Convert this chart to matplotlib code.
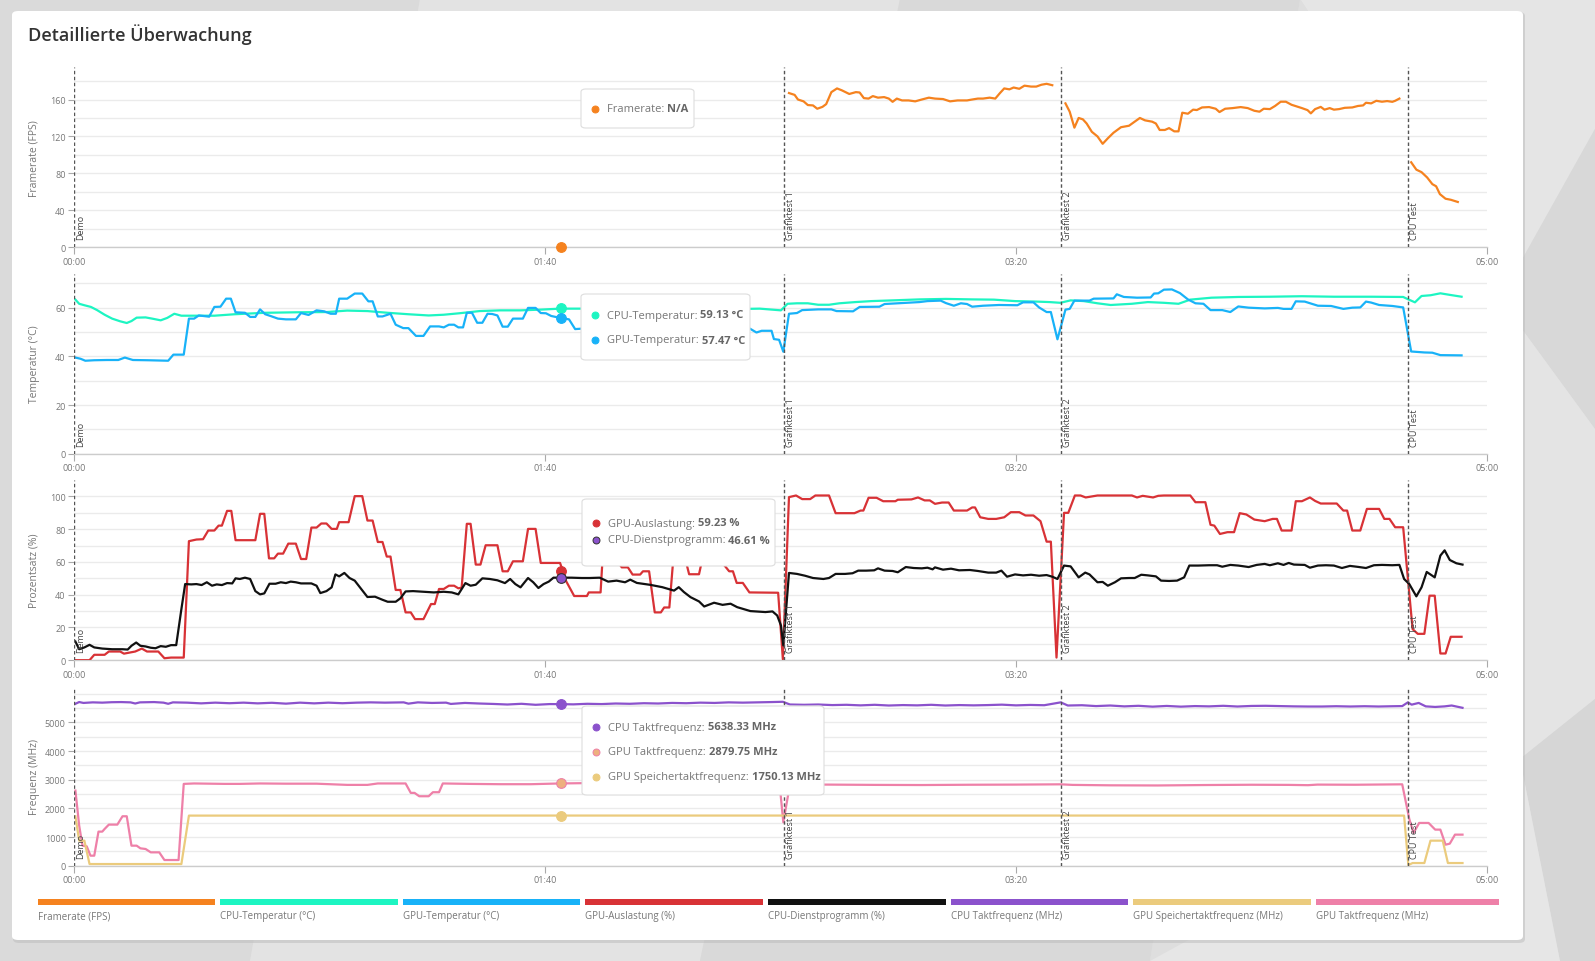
import numpy as np
import matplotlib
matplotlib.use('Agg')
import matplotlib.pyplot as plt
from matplotlib.patches import FancyBboxPatch, Polygon, Rectangle
from matplotlib.lines import Line2D

W, H = 1595, 962
plt.rcParams['font.family'] = ['Open Sans', 'DejaVu Sans']

# ---------------- data ----------------
title = 'Detaillierte Überwachung'
x_ticks = [0, 100, 200, 300]
x_tick_labels = ['00:00', '01:40', '03:20', '05:00']
event_times = [0, 150.8, 209.5, 283.2]
event_labels = ['Demo', 'Grafiktest 1', 'Grafiktest 2', 'CPU Test']
hover_time = 103.4

fps_points = [
    (151.8, 167), (153, 165), (153.7, 160), (154.9, 158), (155.8, 154), (156.9, 153.6), (157.8, 150),
    (158.9, 152), (159.7, 155), (160.8, 168), (162, 172), (163, 170), (164.6, 166), (166, 168),
    (166.8, 167.6), (167.7, 161.5), (168.7, 161), (169.6, 163.7), (170.7, 162), (172, 162.6), (173, 161),
    (173.8, 157.5), (174.7, 161), (175.8, 159), (177.2, 159), (178.6, 158), (180, 160), (181.5, 162),
    (182.8, 161), (184.5, 160.5), (186, 158), (187.6, 159), (189.6, 159), (190.7, 160), (191.9, 161),
    (193, 161), (194.4, 162), (195.6, 161), (196.6, 167), (197.5, 172), (198.6, 171), (199.5, 173),
    (200.7, 171.6), (201.8, 175), (203.2, 174), (204.3, 174), (205.4, 176), (206.5, 177), (207.7, 175.5),
    (208.5, None),
    (210.5, 155.8), (211.4, 146.8), (212.4, 129.5), (213.3, 140), (214.2, 138.5), (215, 134), (216.1, 125),
    (217.3, 120), (218.4, 112), (219.5, 118), (220.7, 124), (222.3, 130), (224, 131.6), (225.2, 136),
    (226.3, 140), (227.4, 137.4), (228.9, 136), (229.7, 134), (230.5, 127), (231.6, 127), (232.5, 129),
    (233.6, 125.5), (234.5, 125.5), (235.3, 145.7), (236.5, 144.6), (237.6, 149), (238.4, 148.6),
    (239.5, 151.4), (241, 151.8), (242.4, 150), (243.2, 146.4), (244.4, 150), (246, 150.7), (247.7, 151.8),
    (249.2, 150.7), (250.6, 147.8), (251.7, 146.8), (252.6, 150), (253.9, 149.6), (255, 153), (256.2, 157.6),
    (257.3, 157.6), (258.5, 154.3), (259.6, 152.5), (260.7, 150.7), (261.9, 148.5), (262.6, 145),
    (263.5, 149.6), (264.7, 152), (265.5, 149), (266.6, 150.7), (267.5, 149), (268.6, 149.6), (269.8, 151),
    (271.4, 151.4), (272.6, 153), (273.7, 153.6), (274.3, 156.5), (275.4, 155.8), (276.5, 158.6),
    (277.7, 157.6), (278.8, 158.3), (279.9, 157.5), (280.5, 158.6), (281.4, 161),
    (282.5, None),
    (283.9, 92), (285, 84), (286.1, 81.3), (287.3, 75.5), (288.4, 68.3), (289.2, 66), (290, 57.5),
    (291.2, 52.5), (292.3, 51.4), (293.8, 49),
]

cpu_temp_points = [
    (0.3, 63.3), (1.1, 61.6), (2.2, 61), (3.6, 60.3), (4.9, 59), (6.5, 57.1), (8.1, 55.5), (9.8, 54.4),
    (11.2, 53.7), (12.2, 54.5), (13.3, 55.9), (15.2, 56), (16.6, 55.5), (18.4, 54.8), (19.8, 55.8),
    (21.3, 57.5), (22.8, 56.7), (25.5, 56.7), (29.8, 56.7), (34.1, 57.3), (40.6, 57.9), (47.1, 58.1),
    (53.6, 58.2), (58, 58.8), (62.3, 58.6), (66.6, 57.9), (71, 57.3), (75.3, 56.8), (78.5, 57.1),
    (81.8, 57.7), (86.1, 58.6), (90.5, 58.9), (94.8, 58.9), (99.1, 59.2), (103.2, 59.6), (110, 59.6),
    (120, 59.5), (130, 59.4), (140, 59.4), (145.6, 59.6), (150.1, 58.9), (151.5, 61.6), (153.5, 61.8),
    (155.8, 61.8), (158, 61.2), (160.3, 61.2), (162.5, 61.8), (165.9, 62.3), (169.3, 62.7), (173.8, 63),
    (179.5, 63.4), (185.1, 63.6), (190.7, 63.4), (195.3, 63.3), (199.8, 62.7), (204.3, 62.5), (207.1, 62.3),
    (209.4, 62), (211.6, 63), (214.4, 62.7), (217.3, 61.8), (220.1, 61.1), (224.6, 61.6), (228, 62.3),
    (231.4, 62), (234.5, 61.6), (237, 63.3), (241.5, 64.1), (247.2, 64.4), (253.9, 64.5), (260.7, 64.7),
    (267.5, 64.5), (275.4, 64.5), (282.2, 64.4), (283.3, 63.4), (284.7, 62.2), (286.1, 64.8), (288, 65.1),
    (290.1, 65.9), (292.3, 65.2), (294.6, 64.5),
]

gpu_temp_points = [
    (0.3, 39.5), (1.4, 39), (2.4, 38.2), (4.3, 38.4), (7, 38.5), (9.4, 38.5), (10.8, 39.5), (12.5, 38.5),
    (15.7, 38.4), (20, 38.2), (21.1, 40.7), (23.3, 40.7), (24.4, 55.5), (25.5, 55.5), (26.5, 56.8),
    (28.7, 56.3), (29.8, 60.3), (31.1, 60.4), (32.3, 63.7), (33.3, 63.7), (34.3, 58.1), (36.3, 57.9),
    (37.4, 56.2), (38.5, 56.2), (39.5, 59.3), (40.6, 57.3), (41.7, 56.6), (43.3, 55.5), (45, 55.2),
    (47.1, 55.2), (48.2, 57.8), (49.8, 57), (51.5, 58.9), (53.1, 58.5), (54.5, 57.5), (55.6, 57.5),
    (56.3, 63.7), (58, 63.7), (59.6, 65.8), (61.2, 65.8), (62.5, 62.6), (63.4, 62.6), (64.5, 56.4),
    (65.5, 56.4), (67.2, 57.5), (68.3, 53), (69.9, 51.6), (71, 51.6), (72.6, 48.4), (74.2, 48.4),
    (75.6, 52.3), (77.5, 52.3), (78.5, 51.9), (79.6, 53), (80.7, 53), (81.6, 51.9), (82.6, 51.9),
    (83.4, 57.9), (84.5, 57.9), (85.6, 53.8), (86.7, 53.8), (87.8, 57.5), (88.8, 57.4), (89.9, 56.8),
    (91, 52.2), (92.1, 52.2), (93.2, 55.5), (95.3, 55.5), (96.4, 59.9), (98, 59.9), (99.1, 57.8),
    (100.2, 57.7), (101.3, 56.6), (103.2, 55.8), (105.1, 55.2), (106.4, 51.2), (108, 51.4), (109, 53.5),
    (111, 53.5), (112, 56), (114, 56), (115, 54), (117, 54), (118, 52), (120, 52), (121, 55), (123, 55),
    (124, 57), (126, 57), (127, 53), (129, 53), (130, 50.5), (132, 50.5), (133, 54), (135, 54),
    (136, 56), (138, 55.5), (139, 52), (141, 52), (143.5, 51.4), (144.9, 49.8), (146, 50.5), (148.1, 50.5),
    (148.6, 47.1), (149.7, 46.8), (150.6, 41.9), (151.8, 57.5), (153.5, 57.8), (154.6, 59), (158, 59.3),
    (160.8, 59.3), (161.9, 58.6), (165.4, 58.5), (166.8, 60.3), (171, 60.4), (172.1, 61.5), (174.9, 61.8),
    (179.5, 62.3), (181.2, 62.7), (184, 62.9), (185.1, 61.9), (186.8, 60.8), (188.3, 61.8), (189.6, 61.5),
    (190.7, 60.4), (193, 60.8), (196.4, 61.1), (200.3, 61), (201.5, 62.2), (203.7, 62.2), (204.9, 60.1),
    (206.5, 58.2), (207.4, 58.2), (208.8, 47), (210.5, 59.2), (211.4, 59.5), (212.4, 62.9), (215.6, 62.9),
    (216.5, 63.7), (220.7, 63.8), (221.4, 65.5), (222.9, 64.4), (225.7, 64.1), (228.6, 64.2), (229.3, 65.8),
    (230.2, 65.9), (231.4, 67.4), (233.1, 67.5), (234.8, 66), (236.5, 63.4), (238.1, 61.8), (239.8, 61.6),
    (241.3, 59), (243.8, 59), (245.5, 58.2), (247.2, 60.5), (249.4, 60), (252.8, 59.7), (255.6, 59.9),
    (256.8, 59.5), (258.5, 59.5), (259.4, 62.6), (261.3, 62.5), (264.1, 60.8), (266.9, 60.7), (269.5, 59.5),
    (271.4, 60), (273.1, 60.1), (274.3, 62.5), (275.4, 62.1), (277.1, 61.1), (279.9, 60.7), (282.2, 60.1),
    (283.9, 42), (286.7, 41.6), (288.4, 41.5), (290.1, 40.5), (294.6, 40.4),
]

gpu_util_points = [
    (0.3, 0), (3.3, 0), (4.3, 3.3), (6.5, 3.3), (7.4, 5.3), (9.8, 5.3), (10.6, 4), (11.9, 4.7), (13, 5.3),
    (14.4, 7.1), (15.5, 5.3), (17.9, 5.3), (19.2, 1.2), (20.6, 1.6), (23.3, 1.6), (24.4, 72.7), (26, 73.7),
    (27.4, 73.9), (28.5, 79.2), (29.8, 79.2), (30.7, 82.2), (31.4, 82.2), (32.5, 91.2), (33.4, 91.2),
    (34.3, 73.3), (38.5, 73.3), (39.5, 89.4), (40.4, 89.4), (41.4, 62.2), (42.5, 62.2), (43.3, 65.1),
    (44.4, 65.1), (45.5, 71.2), (47.1, 71.2), (48.2, 61.8), (49.3, 61.8), (50.4, 81), (51.5, 81),
    (52.5, 83.5), (53.6, 83.5), (54.7, 80.2), (55.8, 80.2), (56.3, 84.3), (58.3, 84.3), (59.6, 100.2),
    (61.2, 100.2), (62.3, 85.3), (63.4, 85.3), (64.5, 72.2), (65.5, 72.2), (66.4, 63.3), (67.2, 63.3),
    (68.3, 42.9), (69.3, 42.9), (70.4, 29.2), (71.5, 29.2), (72.4, 25.1), (74.2, 25.1), (75.8, 34.3),
    (76.6, 34.3), (77.5, 43.5), (78.5, 43.5), (79.6, 45.5), (80.7, 45.5), (81.6, 43.9), (82.3, 44.3),
    (83.4, 83.3), (84.2, 83.3), (85.3, 58.4), (86.3, 58.4), (87.4, 70.2), (89.9, 70.2), (91, 54.3),
    (92.1, 54.3), (93.2, 60.4), (95.3, 60.4), (96.4, 80.2), (98, 80.2), (99.1, 59.4), (103.2, 59.4),
    (104.5, 48.2), (106.2, 39.2), (108.9, 39.2), (109.3, 41.4), (111.8, 41.4), (112.3, 66), (114.5, 66),
    (115.5, 60), (116.3, 56.7), (117.6, 56.7), (118.6, 52.3), (120.2, 52.3), (120.8, 54.3), (122.1, 54.3),
    (123.3, 29.2), (124.6, 29.2), (125.3, 32.2), (126.4, 32.2), (127.3, 64), (129.6, 64), (130.6, 52.5),
    (132.7, 52.5), (133.5, 63), (136.5, 63), (137.5, 60), (139.1, 54.3), (139.9, 54.3), (140.7, 47.2),
    (142, 47.2), (143.4, 41.4), (149.5, 41.2), (150.5, 0.6), (151.8, 99.6), (153.3, 100.6), (154.6, 98.4),
    (156.3, 98.4), (157.4, 100.6), (160.3, 100.6), (161.7, 89.8), (165.7, 89.8), (167, 91.4), (167.6, 91.4),
    (168.7, 99.2), (170.4, 99.2), (171.8, 97.1), (174.4, 97.1), (174.9, 98), (177.8, 98.2), (179.2, 99.4),
    (180.6, 97.6), (181.7, 97.6), (182.8, 95.5), (184.3, 96.3), (185.7, 96.3), (186.8, 91.4), (189.6, 91.4),
    (190.7, 93.3), (191.3, 93.3), (192.4, 87.3), (194.1, 86.3), (195.8, 86.3), (197.5, 87.3), (198.9, 90.4),
    (200.7, 90.4), (202, 88.4), (203.7, 88.4), (205.2, 84.9), (206.5, 72.4), (207.4, 72.4), (208.6, 1.6),
    (210.2, 90), (211.1, 90), (212.5, 100.6), (213.7, 100.6), (214.8, 99.4), (217.3, 100.6), (224.6, 100.6),
    (225.7, 99.4), (226.9, 100.4), (229.1, 99.4), (230.2, 100.4), (231.4, 100.6), (237, 100.6),
    (238.1, 96.5), (240.2, 96.5), (241.3, 82.7), (242.1, 82.2), (243.3, 77.1), (244.9, 78.2), (246.3, 78.2),
    (247.5, 89.8), (248.9, 89), (250.6, 85.9), (252.8, 84.9), (254.5, 86.3), (255.4, 86.3), (256.4, 79.2),
    (258.5, 79.2), (259.4, 97.1), (260.7, 97.1), (262.4, 99.4), (263.5, 97.3), (264.7, 95.7), (268.1, 95.7),
    (269.5, 91.4), (270.3, 91.4), (271.4, 79.2), (273.1, 79.2), (274.5, 92.4), (277.1, 92.4), (278.2, 86.3),
    (279.3, 86.3), (280.5, 81.2), (282.2, 81.2), (284.2, 19), (285.3, 16.1), (286.7, 16.1), (287.8, 39.4),
    (288.9, 39.4), (290.1, 4.1), (291.2, 4.1), (292.3, 14.3), (294.6, 14.3),
]

cpu_util_points = [
    (0.3, 11.4), (1.1, 6.7), (2.2, 7.8), (3.3, 9.4), (4.3, 7.8), (6, 7.1), (8.1, 6.7), (10.3, 6.7),
    (11.4, 6.5), (12.2, 8.8), (13.2, 10.8), (14.1, 8.8), (15.2, 8.4), (16.3, 7.6), (17.3, 7.3), (18.4, 8.6),
    (19.5, 8.2), (20.6, 9.2), (21.7, 9.2), (22.8, 31.2), (23.6, 46.5), (24.9, 46.3), (26, 46.5),
    (27.1, 45.9), (28.2, 47.6), (29.3, 45.5), (30.3, 46.3), (31.4, 45.9), (32.5, 47.1), (33.6, 46.9),
    (34.3, 50), (35.2, 49.6), (36.3, 50.4), (37.4, 49.6), (38.5, 42.2), (39.5, 40.2), (40.4, 40.8),
    (41.5, 46.7), (42.8, 46.7), (43.9, 47.6), (45, 47.1), (46, 48), (47.1, 47.6), (48.2, 46.9), (50.4, 46.9),
    (51.5, 45.5), (52.3, 41), (53.6, 42.2), (54.7, 44.5), (55.5, 52.4), (56.3, 51.2), (57.4, 53.3),
    (58.5, 50.2), (59.6, 48.6), (60.7, 44.5), (62.3, 38.6), (63.9, 38.8), (65.5, 36.9), (66.6, 35.7),
    (68.3, 35.7), (69.3, 37.8), (70.4, 42), (72, 42.2), (74.2, 41.8), (76.4, 41.4), (78.5, 41.8),
    (80.2, 41.4), (81.6, 40.2), (83.1, 47.1), (84.2, 45.5), (85.3, 46.1), (86.7, 50), (88.3, 49.6),
    (89.9, 48.8), (91.5, 47.1), (92.6, 49.6), (93.7, 46.5), (94.8, 44.5), (96.4, 50.2), (97.5, 47.6),
    (98.6, 44.1), (99.7, 46.5), (100.8, 48), (101.8, 50.4), (103.5, 50.4), (105.6, 50.4), (107.8, 50.2),
    (109.5, 50.2), (111.6, 50.4), (113.4, 48), (115.2, 48.6), (117, 47.6), (118.1, 49.2), (119.5, 47.2),
    (122.4, 46), (124.9, 44.6), (127.4, 42.5), (128.4, 44.6), (129.5, 41.6), (130.9, 38.5), (132.7, 35.9),
    (133.8, 32.8), (135.9, 35.1), (137.7, 33.8), (139.4, 34.5), (140.8, 32.4), (143.6, 30), (146.8, 29.4),
    (148.3, 29.8), (149.3, 27.3), (150.1, 21.2), (150.6, 9), (151.8, 53.3), (153.5, 52.7), (155.2, 51.6),
    (156.9, 50.2), (159.1, 49.6), (160.3, 50.2), (161.7, 52.7), (163.7, 52.7), (165.3, 53.1), (166.5, 54.7),
    (168.2, 54.7), (169.9, 54.9), (170.7, 56.1), (172.1, 54.7), (173.8, 54.5), (174.9, 53.7), (176.6, 56.9),
    (178.3, 56.3), (180, 56.1), (181.2, 56.5), (182.3, 55.5), (182.8, 56.7), (184.5, 55.3), (186.2, 55.9),
    (187.9, 54.9), (190.2, 55.1), (191.9, 54.5), (194.1, 53.5), (195.8, 53.5), (196.9, 54.7), (198.1, 51),
    (199.8, 52.4), (201.5, 51.8), (203.2, 52.2), (204.9, 51.6), (206.5, 52), (207.7, 51), (208.8, 49.6),
    (210.2, 57.8), (211.6, 57.3), (213.3, 50.6), (214.7, 53.5), (215.6, 52.4), (217.3, 47.6), (218.4, 47.8),
    (219.5, 45.5), (221, 47.6), (222.3, 50), (224, 50.2), (225.2, 50.2), (226.6, 52.2), (228, 51.8),
    (229.7, 51.2), (230.8, 48.6), (232.5, 48.4), (234.2, 48.6), (235.7, 50.6), (236.8, 57.8), (238.7, 57.8),
    (241, 58), (242.7, 58), (243.8, 57.1), (245.5, 58.2), (247.2, 57.8), (249.4, 56.9), (251.1, 58.2),
    (252.8, 58.8), (253.9, 58), (255.6, 59.2), (256.8, 58.2), (257.9, 59.4), (259, 58.4), (261.3, 58.2),
    (262.4, 56.5), (264.1, 57.8), (265.8, 58), (267.5, 57.8), (269.2, 56.3), (270.9, 57.6), (272.6, 57),
    (274.3, 56.3), (276, 58), (277.7, 58.2), (279.9, 58), (281.4, 58.2), (282.4, 49.6), (283.5, 46.5),
    (285, 39), (286.1, 44.5), (287.2, 53.9), (288.9, 50.6), (290.1, 63.9), (291, 67.1), (292.1, 61.2),
    (293.5, 59.2), (294.8, 58.4),
]

cpu_clock_points = [
    (0.3, 5650), (1.1, 5711), (2, 5680), (4, 5700), (6, 5690), (8, 5705), (10, 5710), (12, 5700),
    (13, 5660), (14, 5700), (17, 5710), (19, 5690), (20, 5650), (21, 5700), (24, 5690), (27, 5665),
    (30, 5690), (33, 5670), (36, 5690), (39, 5665), (42, 5685), (45, 5655), (48, 5690), (51, 5665),
    (54, 5690), (57, 5670), (60, 5690), (63, 5700), (66, 5690), (70, 5700), (71, 5655), (73, 5700),
    (76, 5680), (79, 5690), (80, 5645), (83, 5680), (86, 5660), (89, 5645), (92, 5625), (95, 5650),
    (98, 5615), (101, 5640), (103.4, 5638), (106, 5630), (109, 5650), (112, 5640), (115, 5660),
    (118, 5650), (121, 5670), (124, 5660), (127, 5680), (130, 5670), (133, 5690), (136, 5680), (139, 5700),
    (142, 5690), (145, 5700), (148, 5710), (150.5, 5720), (152, 5625), (155, 5615), (158, 5625),
    (161, 5605), (164, 5615), (167, 5595), (170, 5615), (173, 5590), (176, 5605), (179, 5595), (182, 5615),
    (185, 5590), (188, 5605), (191, 5595), (194, 5605), (197, 5620), (200, 5595), (203, 5610), (206, 5600),
    (209.5, 5700), (211, 5590), (214, 5600), (217, 5570), (220, 5590), (223, 5560), (226, 5580),
    (229, 5550), (232, 5575), (235, 5550), (238, 5570), (241, 5560), (244, 5580), (247, 5555), (250, 5575),
    (253, 5580), (256, 5570), (259, 5560), (262, 5555), (265, 5555), (268, 5565), (271, 5555), (274, 5565),
    (277, 5555), (280, 5565), (282, 5570), (283.2, 5700), (284, 5620), (285.5, 5680), (287, 5560),
    (289, 5540), (291, 5560), (292.5, 5590), (294.8, 5510),
]

gpu_clock_points = [
    (0.3, 2622), (1.1, 1399), (1.8, 699), (2.7, 676), (3.5, 350), (4.3, 350), (5.2, 1189), (6, 1189),
    (6.5, 1282), (7.4, 1434), (9.2, 1434), (10.3, 1725), (11.2, 1725), (12.2, 699), (13.3, 699),
    (14.1, 606), (15.2, 583), (16.3, 466), (18.1, 466), (19.2, 198), (22.2, 198), (23.3, 2855),
    (25.5, 2870), (32, 2855), (35.2, 2855), (39.5, 2870), (45, 2862), (51.5, 2862), (58, 2820),
    (62.3, 2820), (64.5, 2870), (70.4, 2870), (71.5, 2541), (72.3, 2541), (73.3, 2424), (75.3, 2424),
    (76.2, 2564), (77.5, 2564), (78.3, 2870), (84, 2855), (90.5, 2844), (97, 2844), (103.2, 2870),
    (107.8, 2880), (115, 2870), (125, 2875), (135, 2870), (145, 2870), (149.8, 2860), (150.6, 1515),
    (152, 2830), (160, 2830), (170, 2820), (180, 2815), (190, 2825), (200, 2830), (209.5, 2840),
    (212, 2820), (220, 2805), (230, 2800), (240, 2815), (250, 2825), (258, 2820), (262, 2810), (264, 2830),
    (272, 2825), (282, 2840), (283.5, 1632), (284.4, 1142), (285.6, 1492), (287.6, 1492), (289, 1259),
    (290.1, 1259), (291.2, 734), (292.1, 769), (293.2, 1084), (294.8, 1084),
]

gpu_mem_points = [
    (0.3, 1725), (1.1, 874), (2.2, 874), (3.3, 58), (22.8, 58), (24.4, 1748), (100, 1750), (150, 1750),
    (200, 1750), (250, 1750), (282.4, 1748), (283.3, 23), (284.2, 93), (286.7, 93), (288, 874),
    (290.6, 874), (291.7, 93), (294.8, 93),
]

hover_values = {
    'fps': 0, 'cpu_temp': 59.8, 'gpu_temp': 55.8, 'gpu_util': 54.7, 'cpu_util': 50.2,
    'cpu_clock': 5640, 'gpu_clock': 2875, 'gpu_mem': 1750,
}

legend_labels = ['Framerate (FPS)', 'CPU-Temperatur (°C)', 'GPU-Temperatur (°C)', 'GPU-Auslastung (%)',
                 'CPU-Dienstprogramm (%)', 'CPU Taktfrequenz (MHz)', 'GPU Speichertaktfrequenz (MHz)',
                 'GPU Taktfrequenz (MHz)']

C = {
    'fps': '#F5821F', 'cpu_temp': '#1DF5C2', 'gpu_temp': '#18B2F8', 'gpu_util': '#D83236',
    'cpu_util': '#111111', 'cpu_clock': '#8B52CC', 'gpu_mem': '#EBCB7D', 'gpu_clock': '#EE80A8',
}
legend_colors = [C['fps'], C['cpu_temp'], C['gpu_temp'], C['gpu_util'], C['cpu_util'],
                 C['cpu_clock'], C['gpu_mem'], C['gpu_clock']]


def xy(points):
    t = np.array([p[0] for p in points], dtype=float)
    v = np.array([np.nan if p[1] is None else p[1] for p in points], dtype=float)
    return t, v


def fx(x):
    return x / W


def fy(y):
    return 1 - y / H


# ---------------- figure ----------------
fig = plt.figure(figsize=(W / 100, H / 100), dpi=100)
fig.patch.set_facecolor('#DEDEDE')

# low-poly background
polys = [
    ([(0, 0), (420, 0), (250, 962), (0, 962)], '#DADADA'),
    ([(420, 0), (900, 0), (700, 962), (250, 962)], '#E3E3E3'),
    ([(900, 0), (1300, 0), (1150, 962), (700, 962)], '#D9D9D9'),
    ([(1300, 0), (1595, 0), (1595, 130), (1500, 300)], '#E5E5E5'),
    ([(1500, 300), (1595, 130), (1595, 430)], '#D8D8D8'),
    ([(1500, 300), (1595, 430), (1595, 700), (1520, 760)], '#E4E4E4'),
    ([(1520, 760), (1595, 700), (1595, 962), (1560, 962)], '#D6D6D6'),
    ([(1300, 0), (1500, 300), (1520, 760), (1150, 962)], '#DEDEDE'),
    ([(1150, 962), (1520, 760), (1560, 962)], '#E6E6E6'),
]
for pts, col in polys:
    fig.add_artist(Polygon([(fx(a), fy(b)) for a, b in pts], closed=True, transform=fig.transFigure,
                           fc=col, ec='none', zorder=-10))

# card shadow + card
fig.add_artist(FancyBboxPatch((fx(13), fy(944)), (1512) / W, (931) / H,
                              boxstyle='round,pad=0,rounding_size=0.004', transform=fig.transFigure,
                              fc='#BBBBBB', ec='none', alpha=0.5, zorder=-6))
fig.add_artist(FancyBboxPatch((fx(12), fy(941)), (1511) / W, (929) / H,
                              boxstyle='round,pad=0,rounding_size=0.004', transform=fig.transFigure,
                              fc='white', ec='none', zorder=-5))

fig.text(fx(28), fy(35), title, fontsize=13, fontweight='semibold', color='#333333', va='center', ha='left')

panel_px = [(68.2, 248.2), (274.6, 454.7), (481.1, 661.2), (687.6, 866.7)]
left_px, width_px = 74, 1413

panels = [
    dict(series=[('fps', fps_points)], ylim=195, major=40, minor=20, maxlab=160, label='Framerate (FPS)'),
    dict(series=[('cpu_temp', cpu_temp_points), ('gpu_temp', gpu_temp_points)], ylim=74, major=20, minor=10,
         maxlab=60, label='Temperatur (°C)'),
    dict(series=[('gpu_util', gpu_util_points), ('cpu_util', cpu_util_points)], ylim=110, major=20, minor=10,
         maxlab=100, label='Prozentsatz (%)'),
    dict(series=[('cpu_clock', cpu_clock_points), ('gpu_clock', gpu_clock_points), ('gpu_mem', gpu_mem_points)],
         ylim=6250, major=1000, minor=500, maxlab=5000, label='Frequenz (MHz)'),
]

axes = []
for (top, bot), cfg in zip(panel_px, panels):
    ax = fig.add_axes([fx(left_px), fy(bot), width_px / W, (bot - top) / H])
    ax.set_facecolor('none')
    ax.set_xlim(0, 300)
    ax.set_ylim(0, cfg['ylim'])
    ax.set_yticks(np.arange(0, cfg['maxlab'] + 1, cfg['major']))
    ax.set_yticks(np.arange(0, cfg['ylim'], cfg['minor']), minor=True)
    ax.grid(True, axis='y', which='both', color='#EBEBEB', lw=1, zorder=0)
    ax.set_xticks(x_ticks)
    ax.set_xticklabels(x_tick_labels)
    for s in ['top', 'right', 'left']:
        ax.spines[s].set_visible(False)
    ax.spines['bottom'].set_color('#CCCCCC')
    ax.spines['bottom'].set_linewidth(1)
    ax.tick_params(axis='y', which='major', length=4, color='#AAAAAA', labelsize=6.5, labelcolor='#777777', pad=2)
    ax.tick_params(axis='y', which='minor', length=0)
    ax.tick_params(axis='x', length=5, color='#AAAAAA', labelsize=6.5, labelcolor='#777777', pad=2)
    ax.set_ylabel(cfg['label'], fontsize=7.5, color='#777777')
    ax.yaxis.label.set_va('center')
    ax.yaxis.set_label_coords(-(74 - 34) / width_px, 0.5)

    for key, pts in cfg['series']:
        t, v = xy(pts)
        ax.plot(t, v, color=C[key], lw=1.6, zorder=3, solid_joinstyle='round')

    for et, el in zip(event_times, event_labels):
        ax.axvline(et, color='#555555', lw=1, ls=(0, (2.5, 1.8)), zorder=4)
        ax.annotate(el, xy=(et, 0), xycoords=('data', 'axes fraction'), xytext=(2, 8),
                    textcoords='offset pixels', rotation=90, ha='left', va='bottom', fontsize=6.5,
                    color='#444444', zorder=5)
    axes.append(ax)

# hover markers
hover_spec = [
    (0, 'fps', C['fps'], C['fps']),
    (1, 'cpu_temp', C['cpu_temp'], C['cpu_temp']),
    (1, 'gpu_temp', C['gpu_temp'], C['gpu_temp']),
    (2, 'gpu_util', C['gpu_util'], C['gpu_util']),
    (2, 'cpu_util', '#8B52CC', '#333333'),
    (3, 'cpu_clock', C['cpu_clock'], C['cpu_clock']),
    (3, 'gpu_clock', '#EDB07E', C['gpu_clock']),
    (3, 'gpu_mem', C['gpu_mem'], C['gpu_mem']),
]
for idx, key, fc, ec in hover_spec:
    axes[idx].plot([hover_time], [hover_values[key]], 'o', ms=7, mfc=fc, mec=ec, mew=0.8, zorder=8,
                   clip_on=False)

# tooltips
renderer = fig.canvas.get_renderer()


def tooltip(box, rows):
    x0, y0, x1, y1 = box
    fig.add_artist(FancyBboxPatch((fx(x0), fy(y1)), (x1 - x0) / W, (y1 - y0) / H,
                                  boxstyle='round,pad=0,rounding_size=0.003', transform=fig.transFigure,
                                  fc='white', ec='#DDDDDD', lw=0.8, zorder=20))
    for (yy, label, value, dfc, dec) in rows:
        fig.add_artist(Line2D([fx(x0 + 14)], [fy(yy)], marker='o', ms=5, mfc=dfc, mec=dec, mew=0.7,
                              transform=fig.transFigure, zorder=21))
        t1 = fig.text(fx(x0 + 26), fy(yy), label, fontsize=8, color='#777777', va='center', ha='left',
                      zorder=22)
        bb = t1.get_window_extent(renderer)
        fig.text(bb.x1 / fig.bbox.width, fy(yy), value, fontsize=8, fontweight='bold', color='#666666',
                 va='center', ha='left', zorder=22)


tooltip((581, 90, 694, 129), [(110, 'Framerate: ', 'N/A', C['fps'], C['fps'])])
tooltip((581, 295, 750, 361), [(316, 'CPU-Temperatur: ', '59.13 °C', C['cpu_temp'], C['cpu_temp']),
                               (341, 'GPU-Temperatur: ', '57.47 °C', C['gpu_temp'], C['gpu_temp'])])
tooltip((582, 500, 775, 567), [(524, 'GPU-Auslastung: ', '59.23 %', C['gpu_util'], C['gpu_util']),
                               (541, 'CPU-Dienstprogramm: ', '46.61 %', '#8B52CC', '#333333')])
tooltip((582, 707, 824, 796), [(728, 'CPU Taktfrequenz: ', '5638.33 MHz', C['cpu_clock'], C['cpu_clock']),
                               (753, 'GPU Taktfrequenz: ', '2879.75 MHz', '#EDB07E', C['gpu_clock']),
                               (778, 'GPU Speichertaktfrequenz: ', '1750.13 MHz', C['gpu_mem'], C['gpu_mem'])])

# legend
for i, (lab, col) in enumerate(zip(legend_labels, legend_colors)):
    x0 = 37.6 + i * 182.6
    w = 183 if i == 7 else 177.5
    fig.add_artist(Rectangle((fx(x0), fy(906)), w / W, 6 / H, transform=fig.transFigure, fc=col, ec='none'))
    fig.text(fx(x0), fy(917), lab, fontsize=7, color='#777777', va='center', ha='left')

fig.savefig('out.png', dpi=100, facecolor=fig.get_facecolor())
